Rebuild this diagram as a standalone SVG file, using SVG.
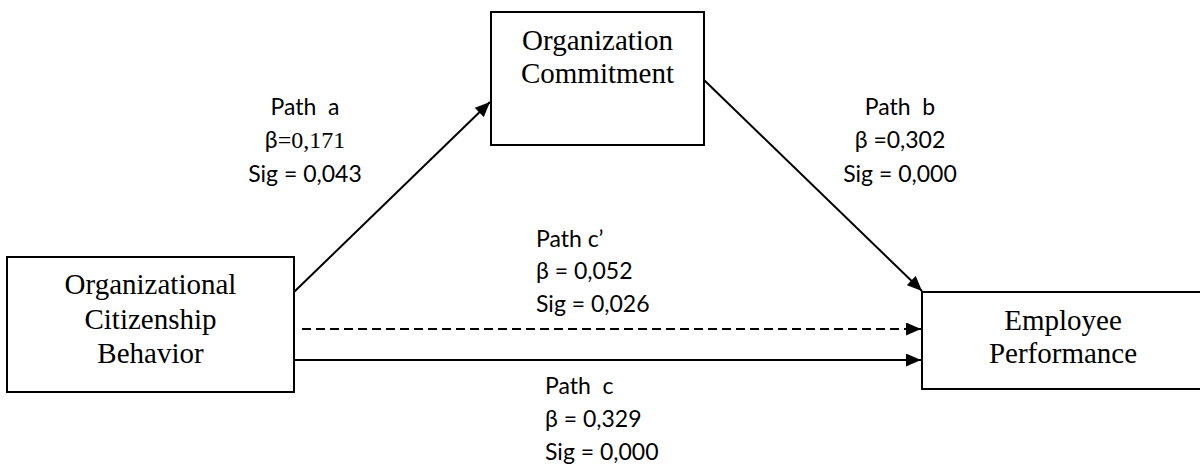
<svg xmlns="http://www.w3.org/2000/svg" width="1200" height="464" viewBox="0 0 1200 464">
<style>
.box{fill:#fff;stroke:#000;stroke-width:2}
.node{font-family:"Liberation Serif","Times New Roman",serif;font-size:29px;fill:#000;text-anchor:middle}
.lbl{font-family:Lato,"Liberation Sans",sans-serif;font-size:23px;fill:#000}
.mid{text-anchor:middle}
.serif{font-family:"Liberation Serif",serif;font-size:24px}
.conn{stroke:#000;stroke-width:2;fill:none}
</style>
<defs>
<marker id="arr" markerUnits="userSpaceOnUse" markerWidth="15" markerHeight="13" refX="15" refY="6.5" orient="auto">
<path d="M0,0 L15,6.5 L0,13 Z" fill="#000"/>
</marker>
</defs>
<rect width="1200" height="464" fill="#fff"/>
<g id="connectors">
<line class="conn" x1="294" y1="292" x2="490" y2="102" marker-end="url(#arr)"/>
<line class="conn" x1="704" y1="80" x2="922" y2="291" marker-end="url(#arr)"/>
<line class="conn" x1="302" y1="329" x2="921" y2="329" stroke-dasharray="9,5" marker-end="url(#arr)"/>
<line class="conn" x1="294" y1="360" x2="921" y2="360" marker-end="url(#arr)"/>
</g>
<g id="node-oc">
<rect class="box" x="491" y="12" width="213" height="133"/>
<text class="node" x="597.5" y="50">Organization</text>
<text class="node" x="597.5" y="83">Commitment</text>
</g>
<g id="node-ocb">
<rect class="box" x="7" y="257" width="287" height="135"/>
<text class="node" x="150.5" y="294">Organizational</text>
<text class="node" x="150.5" y="329">Citizenship</text>
<text class="node" x="150.5" y="363">Behavior</text>
</g>
<g id="node-ep">
<rect class="box" x="922" y="292" width="282" height="97"/>
<text class="node" x="1063" y="330">Employee</text>
<text class="node" x="1063" y="363">Performance</text>
</g>
<g id="label-a">
<text class="lbl mid" x="305" y="115" xml:space="preserve">Path  a</text>
<text class="lbl mid" x="305" y="148">β<tspan class="serif">=0,171</tspan></text>
<text class="lbl mid" x="305" y="182">Sig = 0,043</text>
</g>
<g id="label-b">
<text class="lbl mid" x="900" y="115" xml:space="preserve">Path  b</text>
<text class="lbl mid" x="900" y="148">β =0,302</text>
<text class="lbl mid" x="900" y="182">Sig = 0,000</text>
</g>
<g id="label-c-prime">
<text class="lbl" x="536" y="247">Path c’</text>
<text class="lbl" x="536" y="279">β = 0,052</text>
<text class="lbl" x="536" y="312">Sig = 0,026</text>
</g>
<g id="label-c">
<text class="lbl" x="545" y="394" xml:space="preserve">Path  c</text>
<text class="lbl" x="545" y="427">β = 0,329</text>
<text class="lbl" x="545" y="460">Sig = 0,000</text>
</g>
</svg>
